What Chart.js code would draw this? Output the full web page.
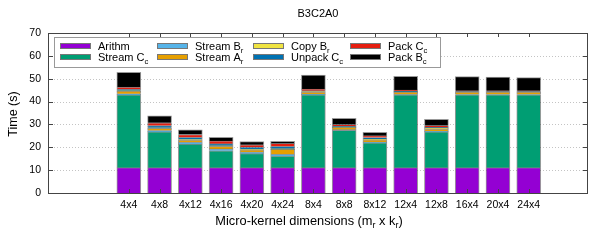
<!DOCTYPE html>
<html>
<head>
    <title>B3C2A0</title>
    <style>
        body { margin: 0; background: #fff; }
    </style>
</head>
<body>
    <canvas id="chartId" width="598" height="240"></canvas>

    <script src="https://cdn.jsdelivr.net/npm/chart.js@4.4.1/dist/chart.umd.min.js"></script>
    <script>
        // micro-kernel sizes on the x axis
        const categories = ['4x4', '4x8', '4x12', '4x16', '4x20', '4x24', '8x4', '8x8', '8x12', '12x4', '12x8', '16x4', '20x4', '24x4'];

        // time per phase (s)
        const arithm   = [11.1, 11.1, 11.1, 11.1, 11.1, 11.1, 11.1, 11.1, 11.1, 11.1, 11.1, 11.1, 11.1, 11.1];
        const streamCc = [31.8, 15.7, 10.3, 7.4, 6.1, 5.1, 31.8, 16.3, 10.8, 31.8, 15.7, 31.9, 31.9, 31.9];
        const streamBr = [0.5, 0.5, 0.8, 0.8, 0.7, 0.7, 0.3, 0.3, 0.4, 0.2, 0.2, 0.1, 0.1, 0.1];
        const streamAr = [1.2, 1.0, 1.0, 1.1, 1.0, 2.2, 1.0, 1.0, 1.0, 1.0, 1.0, 1.0, 1.0, 1.0];
        const copyBr   = [0.1, 0.2, 0.2, 0.3, 0.2, 0.3, 0.2, 0.2, 0.3, 0.2, 0.3, 0.1, 0.1, 0.1];
        const unpackCc = [0.7, 1.0, 1.0, 0.9, 1.0, 1.0, 0.3, 0.4, 0.7, 0.3, 0.5, 0.2, 0.2, 0.2];
        const packCc   = [0.9, 1.2, 1.2, 1.2, 1.0, 1.3, 0.8, 0.7, 0.8, 0.5, 0.7, 0.3, 0.3, 0.3];
        const packBc   = [6.5, 3.1, 2.0, 1.6, 1.4, 0.9, 6.1, 2.7, 1.4, 5.9, 2.7, 6.2, 6.0, 5.8];

        const yTicks = [0, 10, 20, 30, 40, 50, 60, 70];

        // legend entries: [main text, subscript]
        const series = [
            { name: ['Arithm', ''],      data: arithm,   color: '#9400d3' },
            { name: ['Stream C', 'c'],   data: streamCc, color: '#009e73' },
            { name: ['Stream B', 'r'],   data: streamBr, color: '#56b4e9' },
            { name: ['Stream A', 'r'],   data: streamAr, color: '#e69f00' },
            { name: ['Copy B', 'r'],     data: copyBr,   color: '#f0e442' },
            { name: ['Unpack C', 'c'],   data: unpackCc, color: '#0072b2' },
            { name: ['Pack C', 'c'],     data: packCc,   color: '#e51e10' },
            { name: ['Pack B', 'c'],     data: packBc,   color: '#000000' }
        ];

        const FONT = '"Liberation Sans", Arial, sans-serif';

        // text with subscripts: parts = [[text, isSub], ...]
        function drawParts(ctx, parts, x, y, size, align) {
            let w = 0;
            parts.forEach(p => {
                ctx.font = (p[1] ? size * 0.7 : size) + 'px ' + FONT;
                w += ctx.measureText(p[0]).width;
            });
            let cx = align === 'center' ? x - w / 2 : x;
            ctx.textAlign = 'left';
            ctx.textBaseline = 'alphabetic';
            parts.forEach(p => {
                ctx.font = (p[1] ? size * 0.7 : size) + 'px ' + FONT;
                ctx.fillText(p[0], cx, p[1] ? y + size * 0.25 : y);
                cx += ctx.measureText(p[0]).width;
            });
        }

        const decor = {
            id: 'decor',
            beforeDatasetsDraw(chart) {
                // dotted horizontal grid
                const ctx = chart.ctx;
                const a = chart.chartArea;
                const ys = chart.scales.y;
                ctx.save();
                ctx.strokeStyle = '#c4c4c4';
                ctx.lineWidth = 1;
                ctx.setLineDash([1, 2]);
                ctx.beginPath();
                yTicks.slice(1, -1).forEach(v => {
                    const py = Math.round(ys.getPixelForValue(v)) + 0.5;
                    ctx.moveTo(a.left, py); ctx.lineTo(a.right, py);
                });
                ctx.stroke();
                ctx.restore();
            },
            afterDraw(chart) {
                const ctx = chart.ctx;
                const a = chart.chartArea;
                const xs = chart.scales.x, ys = chart.scales.y;
                ctx.save();

                // frame and inward tics
                ctx.strokeStyle = '#444';
                ctx.lineWidth = 1;
                ctx.strokeRect(a.left + 0.5, a.top + 0.5, a.right - a.left - 1, a.bottom - a.top);
                ctx.beginPath();
                yTicks.forEach(v => {
                    const py = Math.round(ys.getPixelForValue(v)) + 0.5;
                    ctx.moveTo(a.left, py); ctx.lineTo(a.left + 5, py);
                    ctx.moveTo(a.right, py); ctx.lineTo(a.right - 5, py);
                });
                categories.forEach((c, i) => {
                    const px = Math.round(xs.getPixelForValue(i)) + 0.5;
                    ctx.moveTo(px, a.bottom); ctx.lineTo(px, a.bottom - 4);
                    ctx.moveTo(px, a.top); ctx.lineTo(px, a.top + 4);
                });
                ctx.stroke();

                ctx.fillStyle = '#000';
                // title
                drawParts(ctx, [['B3C2A0', false]], (a.left + a.right) / 2, 17, 11, 'center');
                // x title
                drawParts(ctx, [['Micro-kernel dimensions (m', false], ['r', true], [' x k', false], ['r', true], [')', false]],
                    (a.left + a.right) / 2 - 9, 225, 12.8, 'center');
                // y title
                ctx.save();
                ctx.translate(17, (a.top + a.bottom) / 2 + 1);
                ctx.rotate(-Math.PI / 2);
                drawParts(ctx, [['Time (s)', false]], 0, 0, 12.5, 'center');
                ctx.restore();

                // legend box
                const bx = 54, by = 37, bw = 386, bh = 30;
                ctx.fillStyle = '#fff';
                ctx.fillRect(bx, by, bw, bh);
                ctx.strokeStyle = '#999';
                ctx.strokeRect(bx + 0.5, by + 0.5, bw, bh);
                const colX = [60, 157, 253, 350];
                const rowY = [46, 57];
                series.forEach((s, i) => {
                    const cx = colX[Math.floor(i / 2)];
                    const cy = rowY[i % 2];
                    ctx.fillStyle = s.color;
                    ctx.fillRect(cx, cy - 3, 31, 6);
                    ctx.strokeStyle = '#777';
                    ctx.strokeRect(cx + 0.5, cy - 2.5, 30, 5);
                    ctx.fillStyle = '#000';
                    const parts = [[s.name[0], false]];
                    if (s.name[1]) parts.push([s.name[1], true]);
                    drawParts(ctx, parts, cx + 38, cy + 4, 11, 'left');
                });
                ctx.restore();
            }
        };

        const chrt = document.getElementById('chartId').getContext('2d');
        const chartId = new Chart(chrt, {
            type: 'bar',
            data: {
                datasets: series.map(s => ({
                    label: s.name.join(''),
                    data: s.data.map((v, i) => ({ x: i, y: v })),
                    backgroundColor: s.color,
                    borderColor: 'rgba(70,70,70,0.55)',
                    borderWidth: 1,
                    barThickness: 24,
                    stack: 'all'
                }))
            },
            options: {
                responsive: false,
                animation: false,
                layout: { padding: { left: 0, top: 33, right: 10, bottom: 0 } },
                scales: {
                    x: {
                        type: 'linear',
                        min: -2,
                        max: 14.3,
                        grid: { display: false, drawTicks: false },
                        border: { display: false },
                        afterBuildTicks: axis => { axis.ticks = categories.map((c, i) => ({ value: i })); },
                        afterFit: axis => { axis.height = 47; },
                        ticks: {
                            autoSkip: false,
                            maxRotation: 0,
                            padding: 6,
                            color: '#000',
                            font: { family: FONT, size: 10.5 },
                            callback: v => categories[v]
                        }
                    },
                    y: {
                        stacked: true,
                        min: 0,
                        max: 70,
                        grid: { display: false, drawTicks: false },
                        border: { display: false },
                        afterFit: axis => { axis.width = 48; },
                        ticks: {
                            stepSize: 10,
                            padding: 7,
                            color: '#000',
                            font: { family: FONT, size: 10.5 }
                        }
                    }
                },
                plugins: {
                    legend: { display: false },
                    tooltip: { enabled: false }
                }
            },
            plugins: [decor]
        });
    </script>
</body>
</html>
